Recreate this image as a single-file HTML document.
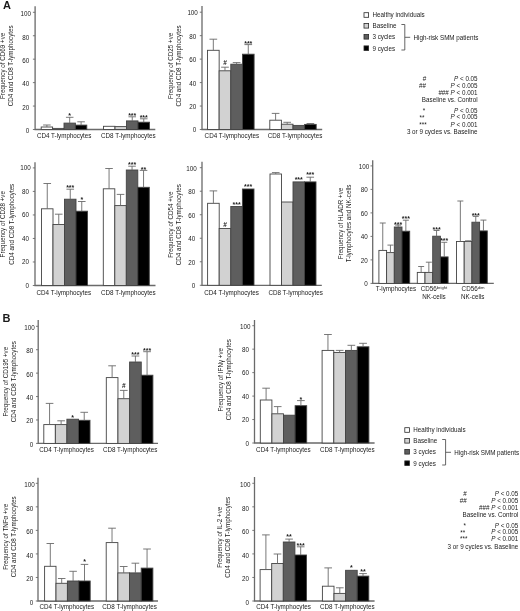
<!DOCTYPE html>
<html><head><meta charset="utf-8"><style>
html,body{margin:0;padding:0;background:#fff;}
body{width:520px;height:611px;overflow:hidden;}
svg{display:block;filter:blur(0.3px);}
text{font-family:"Liberation Sans",sans-serif;fill:#1a1a1a;}
</style></head><body>
<svg width="520" height="611" viewBox="0 0 520 611">
<path d="M35.10,6.30V129.50H155.30" fill="none" stroke="#6a6a6a" stroke-width="1.3"/>
<path d="M32.90,129.50H35.10" stroke="#6a6a6a" stroke-width="0.9"/>
<text x="29.35" y="133.26" font-size="6.27" text-anchor="end">0</text>
<path d="M32.90,106.06H35.10" stroke="#6a6a6a" stroke-width="0.9"/>
<text x="29.35" y="109.82" font-size="6.27" text-anchor="end">20</text>
<path d="M32.90,82.62H35.10" stroke="#6a6a6a" stroke-width="0.9"/>
<text x="29.35" y="86.38" font-size="6.27" text-anchor="end">40</text>
<path d="M32.90,59.18H35.10" stroke="#6a6a6a" stroke-width="0.9"/>
<text x="29.35" y="62.94" font-size="6.27" text-anchor="end">60</text>
<path d="M32.90,35.74H35.10" stroke="#6a6a6a" stroke-width="0.9"/>
<text x="29.35" y="39.50" font-size="6.27" text-anchor="end">80</text>
<path d="M32.90,12.30H35.10" stroke="#6a6a6a" stroke-width="0.9"/>
<text x="30.95" y="16.06" font-size="6.27" text-anchor="end">100</text>
<text transform="translate(5.40,65.85) rotate(-90)" font-size="6.27" text-anchor="middle">Frequency of CD69 +ve</text>
<text transform="translate(13.20,65.85) rotate(-90)" font-size="6.27" text-anchor="middle">CD4 and CD8 T-lymphocytes</text>
<rect x="41.20" y="127.00" width="11.40" height="2.50" fill="#ffffff" stroke="#444" stroke-width="0.9"/>
<path d="M46.90,127.00V125.00M43.14,125.00H50.66" stroke="#6a6a6a" stroke-width="0.9" fill="none"/>
<rect x="52.60" y="128.40" width="11.40" height="1.10" fill="#d2d2d2" stroke="#444" stroke-width="0.9"/>
<rect x="64.00" y="123.10" width="11.40" height="6.40" fill="#5e5e5e" stroke="#444" stroke-width="0.9"/>
<path d="M69.70,123.10V117.30M65.94,117.30H73.46" stroke="#6a6a6a" stroke-width="0.9" fill="none"/>
<text x="69.70" y="118.10" font-size="7.0224" text-anchor="middle" font-weight="bold">*</text>
<rect x="75.40" y="125.10" width="11.40" height="4.40" fill="#000000" stroke="#444" stroke-width="0.9"/>
<path d="M81.10,125.10V121.80M77.34,121.80H84.86" stroke="#6a6a6a" stroke-width="0.9" fill="none"/>
<text x="64.20" y="138.00" font-size="6.27" text-anchor="middle">CD4 T-lymphocytes</text>
<rect x="103.50" y="126.30" width="11.50" height="3.20" fill="#ffffff" stroke="#444" stroke-width="0.9"/>
<rect x="115.00" y="126.60" width="11.50" height="2.90" fill="#d2d2d2" stroke="#444" stroke-width="0.9"/>
<rect x="126.50" y="120.90" width="11.50" height="8.60" fill="#5e5e5e" stroke="#444" stroke-width="0.9"/>
<path d="M132.25,120.90V116.80M128.46,116.80H136.04" stroke="#6a6a6a" stroke-width="0.9" fill="none"/>
<text x="132.25" y="117.60" font-size="7.0224" text-anchor="middle" font-weight="bold">***</text>
<rect x="138.00" y="122.20" width="11.50" height="7.30" fill="#000000" stroke="#444" stroke-width="0.9"/>
<path d="M143.75,122.20V118.80M139.96,118.80H147.54" stroke="#6a6a6a" stroke-width="0.9" fill="none"/>
<text x="143.75" y="120.00" font-size="7.0224" text-anchor="middle" font-weight="bold">***</text>
<text x="128.30" y="138.00" font-size="6.27" text-anchor="middle">CD8 T-lymphocytes</text>
<path d="M202.00,6.10V129.50H322.20" fill="none" stroke="#6a6a6a" stroke-width="1.3"/>
<path d="M199.80,129.50H202.00" stroke="#6a6a6a" stroke-width="0.9"/>
<text x="196.25" y="132.46" font-size="6.27" text-anchor="end">0</text>
<path d="M199.80,106.04H202.00" stroke="#6a6a6a" stroke-width="0.9"/>
<text x="196.25" y="109.00" font-size="6.27" text-anchor="end">20</text>
<path d="M199.80,82.58H202.00" stroke="#6a6a6a" stroke-width="0.9"/>
<text x="196.25" y="85.54" font-size="6.27" text-anchor="end">40</text>
<path d="M199.80,59.12H202.00" stroke="#6a6a6a" stroke-width="0.9"/>
<text x="196.25" y="62.08" font-size="6.27" text-anchor="end">60</text>
<path d="M199.80,35.66H202.00" stroke="#6a6a6a" stroke-width="0.9"/>
<text x="196.25" y="38.62" font-size="6.27" text-anchor="end">80</text>
<path d="M199.80,12.20H202.00" stroke="#6a6a6a" stroke-width="0.9"/>
<text x="197.85" y="15.16" font-size="6.27" text-anchor="end">100</text>
<text transform="translate(172.70,65.90) rotate(-90)" font-size="6.27" text-anchor="middle">Frequency of CD25 +ve</text>
<text transform="translate(180.80,65.90) rotate(-90)" font-size="6.27" text-anchor="middle">CD4 and CD8 T-lymphocytes</text>
<rect x="207.50" y="50.30" width="11.65" height="79.20" fill="#ffffff" stroke="#444" stroke-width="0.9"/>
<path d="M213.32,50.30V39.20M209.48,39.20H217.17" stroke="#6a6a6a" stroke-width="0.9" fill="none"/>
<rect x="219.15" y="70.80" width="11.65" height="58.70" fill="#d2d2d2" stroke="#444" stroke-width="0.9"/>
<path d="M224.97,70.80V67.20M221.13,67.20H228.82" stroke="#6a6a6a" stroke-width="0.9" fill="none"/>
<text x="224.97" y="65.10" font-size="6.5835" text-anchor="middle" font-weight="bold">#</text>
<rect x="230.80" y="64.20" width="11.65" height="65.30" fill="#5e5e5e" stroke="#444" stroke-width="0.9"/>
<path d="M236.62,64.20V62.60M232.78,62.60H240.47" stroke="#6a6a6a" stroke-width="0.9" fill="none"/>
<rect x="242.45" y="54.20" width="11.65" height="75.30" fill="#000000" stroke="#444" stroke-width="0.9"/>
<path d="M248.27,54.20V44.60M244.43,44.60H252.12" stroke="#6a6a6a" stroke-width="0.9" fill="none"/>
<text x="248.27" y="45.60" font-size="7.0224" text-anchor="middle" font-weight="bold">***</text>
<text x="231.90" y="137.80" font-size="6.27" text-anchor="middle">CD4 T-lymphocytes</text>
<rect x="269.80" y="120.20" width="11.60" height="9.30" fill="#ffffff" stroke="#444" stroke-width="0.9"/>
<path d="M275.60,120.20V113.40M271.77,113.40H279.43" stroke="#6a6a6a" stroke-width="0.9" fill="none"/>
<rect x="281.40" y="124.20" width="11.60" height="5.30" fill="#d2d2d2" stroke="#444" stroke-width="0.9"/>
<path d="M287.20,124.20V122.30M283.37,122.30H291.03" stroke="#6a6a6a" stroke-width="0.9" fill="none"/>
<rect x="293.00" y="125.40" width="11.60" height="4.10" fill="#5e5e5e" stroke="#444" stroke-width="0.9"/>
<rect x="304.60" y="124.40" width="11.60" height="5.10" fill="#000000" stroke="#444" stroke-width="0.9"/>
<path d="M310.40,124.40V123.50M306.57,123.50H314.23" stroke="#6a6a6a" stroke-width="0.9" fill="none"/>
<text x="295.00" y="137.80" font-size="6.27" text-anchor="middle">CD8 T-lymphocytes</text>
<path d="M35.00,162.20V285.50H155.50" fill="none" stroke="#6a6a6a" stroke-width="1.3"/>
<path d="M32.80,285.50H35.00" stroke="#6a6a6a" stroke-width="0.9"/>
<text x="29.05" y="287.96" font-size="6.27" text-anchor="end">0</text>
<path d="M32.80,261.98H35.00" stroke="#6a6a6a" stroke-width="0.9"/>
<text x="29.05" y="264.44" font-size="6.27" text-anchor="end">20</text>
<path d="M32.80,238.46H35.00" stroke="#6a6a6a" stroke-width="0.9"/>
<text x="29.05" y="240.92" font-size="6.27" text-anchor="end">40</text>
<path d="M32.80,214.94H35.00" stroke="#6a6a6a" stroke-width="0.9"/>
<text x="29.05" y="217.40" font-size="6.27" text-anchor="end">60</text>
<path d="M32.80,191.42H35.00" stroke="#6a6a6a" stroke-width="0.9"/>
<text x="29.05" y="193.88" font-size="6.27" text-anchor="end">80</text>
<path d="M32.80,167.90H35.00" stroke="#6a6a6a" stroke-width="0.9"/>
<text x="30.65" y="170.36" font-size="6.27" text-anchor="end">100</text>
<text transform="translate(5.40,224.25) rotate(-90)" font-size="6.27" text-anchor="middle">Frequency of CD28 +ve</text>
<text transform="translate(13.50,224.25) rotate(-90)" font-size="6.27" text-anchor="middle">CD4 and CD8 T-lymphocytes</text>
<rect x="41.50" y="208.80" width="11.50" height="76.70" fill="#ffffff" stroke="#444" stroke-width="0.9"/>
<path d="M47.25,208.80V183.50M43.45,183.50H51.05" stroke="#6a6a6a" stroke-width="0.9" fill="none"/>
<rect x="53.00" y="224.50" width="11.50" height="61.00" fill="#d2d2d2" stroke="#444" stroke-width="0.9"/>
<path d="M58.75,224.50V214.20M54.95,214.20H62.55" stroke="#6a6a6a" stroke-width="0.9" fill="none"/>
<rect x="64.50" y="199.20" width="11.50" height="86.30" fill="#5e5e5e" stroke="#444" stroke-width="0.9"/>
<path d="M70.25,199.20V189.20M66.45,189.20H74.05" stroke="#6a6a6a" stroke-width="0.9" fill="none"/>
<text x="70.25" y="190.10" font-size="7.0224" text-anchor="middle" font-weight="bold">***</text>
<rect x="76.00" y="211.20" width="11.50" height="74.30" fill="#000000" stroke="#444" stroke-width="0.9"/>
<path d="M81.75,211.20V201.50M77.95,201.50H85.55" stroke="#6a6a6a" stroke-width="0.9" fill="none"/>
<text x="81.75" y="201.80" font-size="7.0224" text-anchor="middle" font-weight="bold">*</text>
<text x="63.80" y="294.70" font-size="6.27" text-anchor="middle">CD4 T-lymphocytes</text>
<rect x="103.30" y="188.80" width="11.50" height="96.70" fill="#ffffff" stroke="#444" stroke-width="0.9"/>
<path d="M109.05,188.80V168.50M105.25,168.50H112.84" stroke="#6a6a6a" stroke-width="0.9" fill="none"/>
<rect x="114.80" y="205.60" width="11.50" height="79.90" fill="#d2d2d2" stroke="#444" stroke-width="0.9"/>
<path d="M120.55,205.60V194.40M116.75,194.40H124.34" stroke="#6a6a6a" stroke-width="0.9" fill="none"/>
<rect x="126.30" y="170.00" width="11.50" height="115.50" fill="#5e5e5e" stroke="#444" stroke-width="0.9"/>
<path d="M132.05,170.00V166.20M128.26,166.20H135.84" stroke="#6a6a6a" stroke-width="0.9" fill="none"/>
<text x="132.05" y="167.20" font-size="7.0224" text-anchor="middle" font-weight="bold">***</text>
<rect x="137.80" y="187.30" width="11.50" height="98.20" fill="#000000" stroke="#444" stroke-width="0.9"/>
<path d="M143.55,187.30V170.40M139.76,170.40H147.34" stroke="#6a6a6a" stroke-width="0.9" fill="none"/>
<text x="143.55" y="171.60" font-size="7.0224" text-anchor="middle" font-weight="bold">**</text>
<text x="128.30" y="294.70" font-size="6.27" text-anchor="middle">CD8 T-lymphocytes</text>
<path d="M202.00,161.70V285.30H321.80" fill="none" stroke="#6a6a6a" stroke-width="1.3"/>
<path d="M199.80,285.30H202.00" stroke="#6a6a6a" stroke-width="0.9"/>
<text x="195.15" y="288.16" font-size="6.27" text-anchor="end">0</text>
<path d="M199.80,261.78H202.00" stroke="#6a6a6a" stroke-width="0.9"/>
<text x="195.15" y="264.64" font-size="6.27" text-anchor="end">20</text>
<path d="M199.80,238.26H202.00" stroke="#6a6a6a" stroke-width="0.9"/>
<text x="195.15" y="241.12" font-size="6.27" text-anchor="end">40</text>
<path d="M199.80,214.74H202.00" stroke="#6a6a6a" stroke-width="0.9"/>
<text x="195.15" y="217.60" font-size="6.27" text-anchor="end">60</text>
<path d="M199.80,191.22H202.00" stroke="#6a6a6a" stroke-width="0.9"/>
<text x="195.15" y="194.08" font-size="6.27" text-anchor="end">80</text>
<path d="M199.80,167.70H202.00" stroke="#6a6a6a" stroke-width="0.9"/>
<text x="196.75" y="170.56" font-size="6.27" text-anchor="end">100</text>
<text transform="translate(172.70,224.70) rotate(-90)" font-size="6.27" text-anchor="middle">Frequency of CD54 +ve</text>
<text transform="translate(180.70,224.70) rotate(-90)" font-size="6.27" text-anchor="middle">CD4 and CD8 T-lymphocytes</text>
<rect x="207.60" y="203.30" width="11.60" height="82.00" fill="#ffffff" stroke="#444" stroke-width="0.9"/>
<path d="M213.40,203.30V190.90M209.57,190.90H217.23" stroke="#6a6a6a" stroke-width="0.9" fill="none"/>
<rect x="219.20" y="228.50" width="11.60" height="56.80" fill="#d2d2d2" stroke="#444" stroke-width="0.9"/>
<text x="225.00" y="226.70" font-size="6.5835" text-anchor="middle" font-weight="bold">#</text>
<rect x="230.80" y="206.50" width="11.60" height="78.80" fill="#5e5e5e" stroke="#444" stroke-width="0.9"/>
<text x="236.60" y="206.60" font-size="7.0224" text-anchor="middle" font-weight="bold">***</text>
<rect x="242.40" y="189.00" width="11.60" height="96.30" fill="#000000" stroke="#444" stroke-width="0.9"/>
<text x="248.20" y="189.40" font-size="7.0224" text-anchor="middle" font-weight="bold">***</text>
<text x="231.60" y="294.60" font-size="6.27" text-anchor="middle">CD4 T-lymphocytes</text>
<rect x="270.00" y="174.00" width="11.50" height="111.30" fill="#ffffff" stroke="#444" stroke-width="0.9"/>
<path d="M275.75,174.00V172.60M271.95,172.60H279.55" stroke="#6a6a6a" stroke-width="0.9" fill="none"/>
<rect x="281.50" y="202.00" width="11.50" height="83.30" fill="#d2d2d2" stroke="#444" stroke-width="0.9"/>
<rect x="293.00" y="181.90" width="11.50" height="103.40" fill="#5e5e5e" stroke="#444" stroke-width="0.9"/>
<text x="298.75" y="182.30" font-size="7.0224" text-anchor="middle" font-weight="bold">***</text>
<rect x="304.50" y="181.90" width="11.50" height="103.40" fill="#000000" stroke="#444" stroke-width="0.9"/>
<path d="M310.25,181.90V177.20M306.45,177.20H314.05" stroke="#6a6a6a" stroke-width="0.9" fill="none"/>
<text x="310.25" y="177.00" font-size="7.0224" text-anchor="middle" font-weight="bold">***</text>
<text x="295.70" y="294.60" font-size="6.27" text-anchor="middle">CD8 T-lymphocytes</text>
<path d="M372.70,160.20V283.40H493.80" fill="none" stroke="#6a6a6a" stroke-width="1.3"/>
<path d="M370.50,283.40H372.70" stroke="#6a6a6a" stroke-width="0.9"/>
<text x="367.65" y="286.41" font-size="6.27" text-anchor="end">0</text>
<path d="M370.50,259.90H372.70" stroke="#6a6a6a" stroke-width="0.9"/>
<text x="367.65" y="262.91" font-size="6.27" text-anchor="end">20</text>
<path d="M370.50,236.40H372.70" stroke="#6a6a6a" stroke-width="0.9"/>
<text x="367.65" y="239.41" font-size="6.27" text-anchor="end">40</text>
<path d="M370.50,212.90H372.70" stroke="#6a6a6a" stroke-width="0.9"/>
<text x="367.65" y="215.91" font-size="6.27" text-anchor="end">60</text>
<path d="M370.50,189.40H372.70" stroke="#6a6a6a" stroke-width="0.9"/>
<text x="367.65" y="192.41" font-size="6.27" text-anchor="end">80</text>
<path d="M370.50,165.90H372.70" stroke="#6a6a6a" stroke-width="0.9"/>
<text x="369.25" y="168.91" font-size="6.27" text-anchor="end">100</text>
<text transform="translate(342.50,223.50) rotate(-90)" font-size="6.27" text-anchor="middle">Frequency of HLADR +ve</text>
<text transform="translate(350.50,223.50) rotate(-90)" font-size="6.27" text-anchor="middle">T-lymphocytes and NK-cells</text>
<rect x="378.90" y="250.40" width="7.70" height="33.00" fill="#ffffff" stroke="#444" stroke-width="0.9"/>
<path d="M382.75,250.40V223.00M379.75,223.00H385.75" stroke="#6a6a6a" stroke-width="0.9" fill="none"/>
<rect x="386.60" y="252.60" width="7.70" height="30.80" fill="#d2d2d2" stroke="#444" stroke-width="0.9"/>
<path d="M390.45,252.60V245.10M387.45,245.10H393.45" stroke="#6a6a6a" stroke-width="0.9" fill="none"/>
<rect x="394.30" y="227.00" width="7.70" height="56.40" fill="#5e5e5e" stroke="#444" stroke-width="0.9"/>
<path d="M398.15,227.00V225.10M395.15,225.10H401.15" stroke="#6a6a6a" stroke-width="0.9" fill="none"/>
<text x="398.15" y="226.60" font-size="7.0224" text-anchor="middle" font-weight="bold">***</text>
<rect x="402.00" y="231.20" width="7.70" height="52.20" fill="#000000" stroke="#444" stroke-width="0.9"/>
<path d="M405.85,231.20V220.20M402.85,220.20H408.85" stroke="#6a6a6a" stroke-width="0.9" fill="none"/>
<text x="405.85" y="220.90" font-size="7.0224" text-anchor="middle" font-weight="bold">***</text>
<text x="395.90" y="291.00" font-size="6.27" text-anchor="middle">T-lymphocytes</text>
<rect x="417.30" y="272.40" width="7.70" height="11.00" fill="#ffffff" stroke="#444" stroke-width="0.9"/>
<path d="M421.15,272.40V266.50M418.15,266.50H424.15" stroke="#6a6a6a" stroke-width="0.9" fill="none"/>
<rect x="425.00" y="272.40" width="7.70" height="11.00" fill="#d2d2d2" stroke="#444" stroke-width="0.9"/>
<path d="M428.85,272.40V262.20M425.85,262.20H431.85" stroke="#6a6a6a" stroke-width="0.9" fill="none"/>
<rect x="432.70" y="236.20" width="7.70" height="47.20" fill="#5e5e5e" stroke="#444" stroke-width="0.9"/>
<path d="M436.55,236.20V230.50M433.55,230.50H439.55" stroke="#6a6a6a" stroke-width="0.9" fill="none"/>
<text x="436.55" y="231.80" font-size="7.0224" text-anchor="middle" font-weight="bold">***</text>
<rect x="440.40" y="256.90" width="7.70" height="26.50" fill="#000000" stroke="#444" stroke-width="0.9"/>
<path d="M444.25,256.90V242.30M441.25,242.30H447.25" stroke="#6a6a6a" stroke-width="0.9" fill="none"/>
<text x="444.25" y="242.60" font-size="7.0224" text-anchor="middle" font-weight="bold">***</text>
<text x="434.00" y="290.70" font-size="6.27" text-anchor="middle">CD56<tspan font-size="4.2" dy="-2.2">bright</tspan></text>
<text x="434.00" y="298.50" font-size="6.27" text-anchor="middle">NK-cells</text>
<rect x="456.50" y="241.50" width="7.70" height="41.90" fill="#ffffff" stroke="#444" stroke-width="0.9"/>
<path d="M460.35,241.50V201.00M457.35,201.00H463.35" stroke="#6a6a6a" stroke-width="0.9" fill="none"/>
<rect x="464.20" y="241.50" width="7.70" height="41.90" fill="#d2d2d2" stroke="#444" stroke-width="0.9"/>
<path d="M468.05,241.50V240.80M465.05,240.80H471.05" stroke="#6a6a6a" stroke-width="0.9" fill="none"/>
<rect x="471.90" y="222.20" width="7.70" height="61.20" fill="#5e5e5e" stroke="#444" stroke-width="0.9"/>
<path d="M475.75,222.20V216.40M472.75,216.40H478.75" stroke="#6a6a6a" stroke-width="0.9" fill="none"/>
<text x="475.75" y="218.10" font-size="7.0224" text-anchor="middle" font-weight="bold">***</text>
<rect x="479.60" y="230.90" width="7.70" height="52.50" fill="#000000" stroke="#444" stroke-width="0.9"/>
<path d="M483.45,230.90V220.10M480.45,220.10H486.45" stroke="#6a6a6a" stroke-width="0.9" fill="none"/>
<text x="473.00" y="290.70" font-size="6.27" text-anchor="middle">CD56<tspan font-size="4.2" dy="-2.2">dim</tspan></text>
<text x="472.70" y="298.50" font-size="6.27" text-anchor="middle">NK-cells</text>
<path d="M38.20,320.10V443.40H158.00" fill="none" stroke="#6a6a6a" stroke-width="1.3"/>
<path d="M36.00,443.40H38.20" stroke="#6a6a6a" stroke-width="0.9"/>
<text x="33.15" y="446.76" font-size="6.27" text-anchor="end">0</text>
<path d="M36.00,419.98H38.20" stroke="#6a6a6a" stroke-width="0.9"/>
<text x="33.15" y="423.34" font-size="6.27" text-anchor="end">20</text>
<path d="M36.00,396.56H38.20" stroke="#6a6a6a" stroke-width="0.9"/>
<text x="33.15" y="399.92" font-size="6.27" text-anchor="end">40</text>
<path d="M36.00,373.14H38.20" stroke="#6a6a6a" stroke-width="0.9"/>
<text x="33.15" y="376.50" font-size="6.27" text-anchor="end">60</text>
<path d="M36.00,349.72H38.20" stroke="#6a6a6a" stroke-width="0.9"/>
<text x="33.15" y="353.08" font-size="6.27" text-anchor="end">80</text>
<path d="M36.00,326.30H38.20" stroke="#6a6a6a" stroke-width="0.9"/>
<text x="34.75" y="329.66" font-size="6.27" text-anchor="end">100</text>
<text transform="translate(7.90,381.70) rotate(-90)" font-size="6.27" text-anchor="middle">Frequency of CD195 +ve</text>
<text transform="translate(15.60,381.70) rotate(-90)" font-size="6.27" text-anchor="middle">CD4 and CD8 T-lymphocytes</text>
<rect x="43.80" y="424.60" width="11.55" height="18.80" fill="#ffffff" stroke="#444" stroke-width="0.9"/>
<path d="M49.57,424.60V403.40M45.76,403.40H53.39" stroke="#6a6a6a" stroke-width="0.9" fill="none"/>
<rect x="55.35" y="424.60" width="11.55" height="18.80" fill="#d2d2d2" stroke="#444" stroke-width="0.9"/>
<path d="M61.12,424.60V420.80M57.31,420.80H64.94" stroke="#6a6a6a" stroke-width="0.9" fill="none"/>
<rect x="66.90" y="419.20" width="11.55" height="24.20" fill="#5e5e5e" stroke="#444" stroke-width="0.9"/>
<text x="72.68" y="419.80" font-size="7.0224" text-anchor="middle" font-weight="bold">*</text>
<rect x="78.45" y="420.30" width="11.55" height="23.10" fill="#000000" stroke="#444" stroke-width="0.9"/>
<path d="M84.23,420.30V412.30M80.41,412.30H88.04" stroke="#6a6a6a" stroke-width="0.9" fill="none"/>
<text x="66.50" y="452.40" font-size="6.27" text-anchor="middle">CD4 T-lymphocytes</text>
<rect x="106.30" y="377.60" width="11.65" height="65.80" fill="#ffffff" stroke="#444" stroke-width="0.9"/>
<path d="M112.12,377.60V365.80M108.28,365.80H115.97" stroke="#6a6a6a" stroke-width="0.9" fill="none"/>
<rect x="117.95" y="398.70" width="11.65" height="44.70" fill="#d2d2d2" stroke="#444" stroke-width="0.9"/>
<path d="M123.78,398.70V390.40M119.93,390.40H127.62" stroke="#6a6a6a" stroke-width="0.9" fill="none"/>
<text x="123.78" y="387.50" font-size="6.5835" text-anchor="middle" font-weight="bold">#</text>
<rect x="129.60" y="362.00" width="11.65" height="81.40" fill="#5e5e5e" stroke="#444" stroke-width="0.9"/>
<path d="M135.42,362.00V356.00M131.58,356.00H139.27" stroke="#6a6a6a" stroke-width="0.9" fill="none"/>
<text x="135.42" y="356.90" font-size="7.0224" text-anchor="middle" font-weight="bold">***</text>
<rect x="141.25" y="375.20" width="11.65" height="68.20" fill="#000000" stroke="#444" stroke-width="0.9"/>
<path d="M147.07,375.20V351.70M143.23,351.70H150.92" stroke="#6a6a6a" stroke-width="0.9" fill="none"/>
<text x="147.07" y="352.60" font-size="7.0224" text-anchor="middle" font-weight="bold">***</text>
<text x="130.20" y="452.40" font-size="6.27" text-anchor="middle">CD8 T-lymphocytes</text>
<path d="M254.50,320.10V443.00H374.60" fill="none" stroke="#6a6a6a" stroke-width="1.3"/>
<path d="M252.30,443.00H254.50" stroke="#6a6a6a" stroke-width="0.9"/>
<text x="248.95" y="445.86" font-size="6.27" text-anchor="end">0</text>
<path d="M252.30,419.54H254.50" stroke="#6a6a6a" stroke-width="0.9"/>
<text x="248.95" y="422.40" font-size="6.27" text-anchor="end">20</text>
<path d="M252.30,396.08H254.50" stroke="#6a6a6a" stroke-width="0.9"/>
<text x="248.95" y="398.94" font-size="6.27" text-anchor="end">40</text>
<path d="M252.30,372.62H254.50" stroke="#6a6a6a" stroke-width="0.9"/>
<text x="248.95" y="375.48" font-size="6.27" text-anchor="end">60</text>
<path d="M252.30,349.16H254.50" stroke="#6a6a6a" stroke-width="0.9"/>
<text x="248.95" y="352.02" font-size="6.27" text-anchor="end">80</text>
<path d="M252.30,325.70H254.50" stroke="#6a6a6a" stroke-width="0.9"/>
<text x="250.55" y="328.56" font-size="6.27" text-anchor="end">100</text>
<text transform="translate(223.20,379.70) rotate(-90)" font-size="6.27" text-anchor="middle">Frequency of IFNγ +ve</text>
<text transform="translate(230.60,379.70) rotate(-90)" font-size="6.27" text-anchor="middle">CD4 and CD8 T-lymphocytes</text>
<rect x="260.30" y="400.00" width="11.60" height="43.00" fill="#ffffff" stroke="#444" stroke-width="0.9"/>
<path d="M266.10,400.00V388.20M262.27,388.20H269.93" stroke="#6a6a6a" stroke-width="0.9" fill="none"/>
<rect x="271.90" y="413.80" width="11.60" height="29.20" fill="#d2d2d2" stroke="#444" stroke-width="0.9"/>
<path d="M277.70,413.80V406.60M273.87,406.60H281.53" stroke="#6a6a6a" stroke-width="0.9" fill="none"/>
<rect x="283.50" y="415.20" width="11.60" height="27.80" fill="#5e5e5e" stroke="#444" stroke-width="0.9"/>
<rect x="295.10" y="405.70" width="11.60" height="37.30" fill="#000000" stroke="#444" stroke-width="0.9"/>
<path d="M300.90,405.70V400.60M297.07,400.60H304.73" stroke="#6a6a6a" stroke-width="0.9" fill="none"/>
<text x="300.90" y="401.60" font-size="7.0224" text-anchor="middle" font-weight="bold">*</text>
<text x="283.40" y="452.40" font-size="6.27" text-anchor="middle">CD4 T-lymphocytes</text>
<rect x="322.10" y="350.40" width="11.70" height="92.60" fill="#ffffff" stroke="#444" stroke-width="0.9"/>
<path d="M327.95,350.40V334.50M324.09,334.50H331.81" stroke="#6a6a6a" stroke-width="0.9" fill="none"/>
<rect x="333.80" y="352.50" width="11.70" height="90.50" fill="#d2d2d2" stroke="#444" stroke-width="0.9"/>
<path d="M339.65,352.50V350.40M335.79,350.40H343.51" stroke="#6a6a6a" stroke-width="0.9" fill="none"/>
<rect x="345.50" y="350.40" width="11.70" height="92.60" fill="#5e5e5e" stroke="#444" stroke-width="0.9"/>
<path d="M351.35,350.40V345.30M347.49,345.30H355.21" stroke="#6a6a6a" stroke-width="0.9" fill="none"/>
<rect x="357.20" y="346.80" width="11.70" height="96.20" fill="#000000" stroke="#444" stroke-width="0.9"/>
<path d="M363.05,346.80V343.30M359.19,343.30H366.91" stroke="#6a6a6a" stroke-width="0.9" fill="none"/>
<text x="347.30" y="452.40" font-size="6.27" text-anchor="middle">CD8 T-lymphocytes</text>
<path d="M38.00,477.70V601.00H158.00" fill="none" stroke="#6a6a6a" stroke-width="1.3"/>
<path d="M35.80,601.00H38.00" stroke="#6a6a6a" stroke-width="0.9"/>
<text x="33.15" y="604.76" font-size="6.27" text-anchor="end">0</text>
<path d="M35.80,577.46H38.00" stroke="#6a6a6a" stroke-width="0.9"/>
<text x="33.15" y="581.22" font-size="6.27" text-anchor="end">20</text>
<path d="M35.80,553.92H38.00" stroke="#6a6a6a" stroke-width="0.9"/>
<text x="33.15" y="557.68" font-size="6.27" text-anchor="end">40</text>
<path d="M35.80,530.38H38.00" stroke="#6a6a6a" stroke-width="0.9"/>
<text x="33.15" y="534.14" font-size="6.27" text-anchor="end">60</text>
<path d="M35.80,506.84H38.00" stroke="#6a6a6a" stroke-width="0.9"/>
<text x="33.15" y="510.60" font-size="6.27" text-anchor="end">80</text>
<path d="M35.80,483.30H38.00" stroke="#6a6a6a" stroke-width="0.9"/>
<text x="34.75" y="487.06" font-size="6.27" text-anchor="end">100</text>
<text transform="translate(7.70,536.80) rotate(-90)" font-size="6.27" text-anchor="middle">Frequency of TNFα +ve</text>
<text transform="translate(15.60,536.80) rotate(-90)" font-size="6.27" text-anchor="middle">CD4 and CD8 T-lymphocytes</text>
<rect x="44.60" y="566.30" width="11.40" height="34.70" fill="#ffffff" stroke="#444" stroke-width="0.9"/>
<path d="M50.30,566.30V543.50M46.54,543.50H54.06" stroke="#6a6a6a" stroke-width="0.9" fill="none"/>
<rect x="56.00" y="583.30" width="11.40" height="17.70" fill="#d2d2d2" stroke="#444" stroke-width="0.9"/>
<path d="M61.70,583.30V578.50M57.94,578.50H65.46" stroke="#6a6a6a" stroke-width="0.9" fill="none"/>
<rect x="67.40" y="581.00" width="11.40" height="20.00" fill="#5e5e5e" stroke="#444" stroke-width="0.9"/>
<path d="M73.10,581.00V571.30M69.34,571.30H76.86" stroke="#6a6a6a" stroke-width="0.9" fill="none"/>
<rect x="78.80" y="581.00" width="11.40" height="20.00" fill="#000000" stroke="#444" stroke-width="0.9"/>
<path d="M84.50,581.00V564.40M80.74,564.40H88.26" stroke="#6a6a6a" stroke-width="0.9" fill="none"/>
<text x="84.50" y="563.90" font-size="7.0224" text-anchor="middle" font-weight="bold">*</text>
<text x="66.80" y="609.00" font-size="6.27" text-anchor="middle">CD4 T-lymphocytes</text>
<rect x="106.20" y="542.60" width="11.67" height="58.40" fill="#ffffff" stroke="#444" stroke-width="0.9"/>
<path d="M112.03,542.60V528.20M108.18,528.20H115.89" stroke="#6a6a6a" stroke-width="0.9" fill="none"/>
<rect x="117.87" y="572.90" width="11.67" height="28.10" fill="#d2d2d2" stroke="#444" stroke-width="0.9"/>
<path d="M123.70,572.90V566.50M119.85,566.50H127.56" stroke="#6a6a6a" stroke-width="0.9" fill="none"/>
<rect x="129.54" y="572.90" width="11.67" height="28.10" fill="#5e5e5e" stroke="#444" stroke-width="0.9"/>
<path d="M135.38,572.90V563.20M131.52,563.20H139.23" stroke="#6a6a6a" stroke-width="0.9" fill="none"/>
<rect x="141.21" y="568.10" width="11.67" height="32.90" fill="#000000" stroke="#444" stroke-width="0.9"/>
<path d="M147.05,568.10V549.00M143.19,549.00H150.90" stroke="#6a6a6a" stroke-width="0.9" fill="none"/>
<text x="129.60" y="609.00" font-size="6.27" text-anchor="middle">CD8 T-lymphocytes</text>
<path d="M254.50,477.10V601.00H374.60" fill="none" stroke="#6a6a6a" stroke-width="1.3"/>
<path d="M252.30,601.00H254.50" stroke="#6a6a6a" stroke-width="0.9"/>
<text x="248.95" y="604.66" font-size="6.27" text-anchor="end">0</text>
<path d="M252.30,577.46H254.50" stroke="#6a6a6a" stroke-width="0.9"/>
<text x="248.95" y="581.12" font-size="6.27" text-anchor="end">20</text>
<path d="M252.30,553.92H254.50" stroke="#6a6a6a" stroke-width="0.9"/>
<text x="248.95" y="557.58" font-size="6.27" text-anchor="end">40</text>
<path d="M252.30,530.38H254.50" stroke="#6a6a6a" stroke-width="0.9"/>
<text x="248.95" y="534.04" font-size="6.27" text-anchor="end">60</text>
<path d="M252.30,506.84H254.50" stroke="#6a6a6a" stroke-width="0.9"/>
<text x="248.95" y="510.50" font-size="6.27" text-anchor="end">80</text>
<path d="M252.30,483.30H254.50" stroke="#6a6a6a" stroke-width="0.9"/>
<text x="250.55" y="486.96" font-size="6.27" text-anchor="end">100</text>
<text transform="translate(221.70,537.30) rotate(-90)" font-size="6.27" text-anchor="middle">Frequency of IL-2 +ve</text>
<text transform="translate(229.70,537.30) rotate(-90)" font-size="6.27" text-anchor="middle">CD4 and CD8 T-lymphocytes</text>
<rect x="260.10" y="569.60" width="11.60" height="31.40" fill="#ffffff" stroke="#444" stroke-width="0.9"/>
<path d="M265.90,569.60V534.90M262.07,534.90H269.73" stroke="#6a6a6a" stroke-width="0.9" fill="none"/>
<rect x="271.70" y="563.50" width="11.60" height="37.50" fill="#d2d2d2" stroke="#444" stroke-width="0.9"/>
<path d="M277.50,563.50V554.00M273.67,554.00H281.33" stroke="#6a6a6a" stroke-width="0.9" fill="none"/>
<rect x="283.30" y="542.00" width="11.60" height="59.00" fill="#5e5e5e" stroke="#444" stroke-width="0.9"/>
<path d="M289.10,542.00V539.10M285.27,539.10H292.93" stroke="#6a6a6a" stroke-width="0.9" fill="none"/>
<text x="289.10" y="539.00" font-size="7.0224" text-anchor="middle" font-weight="bold">**</text>
<rect x="294.90" y="555.00" width="11.60" height="46.00" fill="#000000" stroke="#444" stroke-width="0.9"/>
<path d="M300.70,555.00V546.80M296.87,546.80H304.53" stroke="#6a6a6a" stroke-width="0.9" fill="none"/>
<text x="300.70" y="547.50" font-size="7.0224" text-anchor="middle" font-weight="bold">***</text>
<text x="283.60" y="609.00" font-size="6.27" text-anchor="middle">CD4 T-lymphocytes</text>
<rect x="322.40" y="586.20" width="11.60" height="14.80" fill="#ffffff" stroke="#444" stroke-width="0.9"/>
<path d="M328.20,586.20V567.90M324.37,567.90H332.03" stroke="#6a6a6a" stroke-width="0.9" fill="none"/>
<rect x="334.00" y="593.40" width="11.60" height="7.60" fill="#d2d2d2" stroke="#444" stroke-width="0.9"/>
<path d="M339.80,593.40V587.80M335.97,587.80H343.63" stroke="#6a6a6a" stroke-width="0.9" fill="none"/>
<rect x="345.60" y="570.30" width="11.60" height="30.70" fill="#5e5e5e" stroke="#444" stroke-width="0.9"/>
<text x="351.40" y="570.30" font-size="7.0224" text-anchor="middle" font-weight="bold">*</text>
<rect x="357.20" y="576.10" width="11.60" height="24.90" fill="#000000" stroke="#444" stroke-width="0.9"/>
<path d="M363.00,576.10V573.60M359.17,573.60H366.83" stroke="#6a6a6a" stroke-width="0.9" fill="none"/>
<text x="363.00" y="574.00" font-size="7.0224" text-anchor="middle" font-weight="bold">**</text>
<text x="347.30" y="609.00" font-size="6.27" text-anchor="middle">CD8 T-lymphocytes</text>
<rect x="364.00" y="12.70" width="4.6" height="4.6" fill="#ffffff" stroke="#2a2a2a" stroke-width="0.8"/>
<text x="372.50" y="17.40" font-size="6.27" text-anchor="start">Healthy individuals</text>
<rect x="364.00" y="23.50" width="4.6" height="4.6" fill="#d2d2d2" stroke="#2a2a2a" stroke-width="0.8"/>
<text x="372.50" y="28.20" font-size="6.27" text-anchor="start">Baseline</text>
<rect x="364.00" y="34.50" width="4.6" height="4.6" fill="#5e5e5e" stroke="#2a2a2a" stroke-width="0.8"/>
<text x="372.50" y="39.20" font-size="6.27" text-anchor="start">3 cycles</text>
<rect x="364.00" y="45.90" width="4.6" height="4.6" fill="#000000" stroke="#2a2a2a" stroke-width="0.8"/>
<text x="372.50" y="50.60" font-size="6.27" text-anchor="start">9 cycles</text>
<path d="M401.40,24.50H404.80V50.00H401.40M404.80,37.30H410.20" fill="none" stroke="#555" stroke-width="0.9"/>
<text x="413.50" y="40.30" font-size="6.27" text-anchor="start">High-risk SMM patients</text>
<text x="424.40" y="81.00" font-size="6.27" text-anchor="middle">#</text>
<text x="477.60" y="81.00" font-size="6.27" text-anchor="end"><tspan font-style="italic">P</tspan> &lt; 0.05</text>
<text x="422.60" y="87.90" font-size="6.27" text-anchor="middle">##</text>
<text x="477.60" y="87.90" font-size="6.27" text-anchor="end"><tspan font-style="italic">P</tspan> &lt; 0.005</text>
<text x="477.60" y="94.80" font-size="6.27" text-anchor="end">### <tspan font-style="italic">P</tspan> &lt; 0.001</text>
<text x="477.60" y="101.70" font-size="6.27" text-anchor="end">Baseline vs. Control</text>
<text x="424.10" y="113.00" font-size="6.27" text-anchor="middle">*</text>
<text x="477.60" y="113.00" font-size="6.27" text-anchor="end"><tspan font-style="italic">P</tspan> &lt; 0.05</text>
<text x="422.00" y="120.15" font-size="6.27" text-anchor="middle">**</text>
<text x="477.60" y="119.40" font-size="6.27" text-anchor="end"><tspan font-style="italic">P</tspan> &lt; 0.005</text>
<text x="423.00" y="126.50" font-size="6.27" text-anchor="middle">***</text>
<text x="477.60" y="126.50" font-size="6.27" text-anchor="end"><tspan font-style="italic">P</tspan> &lt; 0.001</text>
<text x="477.60" y="133.60" font-size="6.27" text-anchor="end">3 or 9 cycles vs. Baseline</text>
<rect x="404.80" y="427.70" width="4.6" height="4.6" fill="#ffffff" stroke="#2a2a2a" stroke-width="0.8"/>
<text x="413.30" y="432.40" font-size="6.27" text-anchor="start">Healthy individuals</text>
<rect x="404.80" y="438.50" width="4.6" height="4.6" fill="#d2d2d2" stroke="#2a2a2a" stroke-width="0.8"/>
<text x="413.30" y="443.20" font-size="6.27" text-anchor="start">Baseline</text>
<rect x="404.80" y="449.50" width="4.6" height="4.6" fill="#5e5e5e" stroke="#2a2a2a" stroke-width="0.8"/>
<text x="413.30" y="454.20" font-size="6.27" text-anchor="start">3 cycles</text>
<rect x="404.80" y="460.90" width="4.6" height="4.6" fill="#000000" stroke="#2a2a2a" stroke-width="0.8"/>
<text x="413.30" y="465.60" font-size="6.27" text-anchor="start">9 cycles</text>
<path d="M442.20,439.50H445.60V465.00H442.20M445.60,452.30H451.00" fill="none" stroke="#555" stroke-width="0.9"/>
<text x="454.30" y="455.30" font-size="6.27" text-anchor="start">High-risk SMM patients</text>
<text x="465.10" y="495.90" font-size="6.27" text-anchor="middle">#</text>
<text x="518.30" y="495.90" font-size="6.27" text-anchor="end"><tspan font-style="italic">P</tspan> &lt; 0.05</text>
<text x="463.30" y="502.80" font-size="6.27" text-anchor="middle">##</text>
<text x="518.30" y="502.80" font-size="6.27" text-anchor="end"><tspan font-style="italic">P</tspan> &lt; 0.005</text>
<text x="518.30" y="509.70" font-size="6.27" text-anchor="end">### <tspan font-style="italic">P</tspan> &lt; 0.001</text>
<text x="518.30" y="516.60" font-size="6.27" text-anchor="end">Baseline vs. Control</text>
<text x="464.80" y="527.90" font-size="6.27" text-anchor="middle">*</text>
<text x="518.30" y="527.90" font-size="6.27" text-anchor="end"><tspan font-style="italic">P</tspan> &lt; 0.05</text>
<text x="462.70" y="535.05" font-size="6.27" text-anchor="middle">**</text>
<text x="518.30" y="534.30" font-size="6.27" text-anchor="end"><tspan font-style="italic">P</tspan> &lt; 0.005</text>
<text x="463.70" y="541.40" font-size="6.27" text-anchor="middle">***</text>
<text x="518.30" y="541.40" font-size="6.27" text-anchor="end"><tspan font-style="italic">P</tspan> &lt; 0.001</text>
<text x="518.30" y="548.50" font-size="6.27" text-anchor="end">3 or 9 cycles vs. Baseline</text>
<text x="2.9" y="8.6" font-size="11" font-weight="bold">A</text>
<text x="2.6" y="321.7" font-size="11" font-weight="bold">B</text>
</svg>
</body></html>
